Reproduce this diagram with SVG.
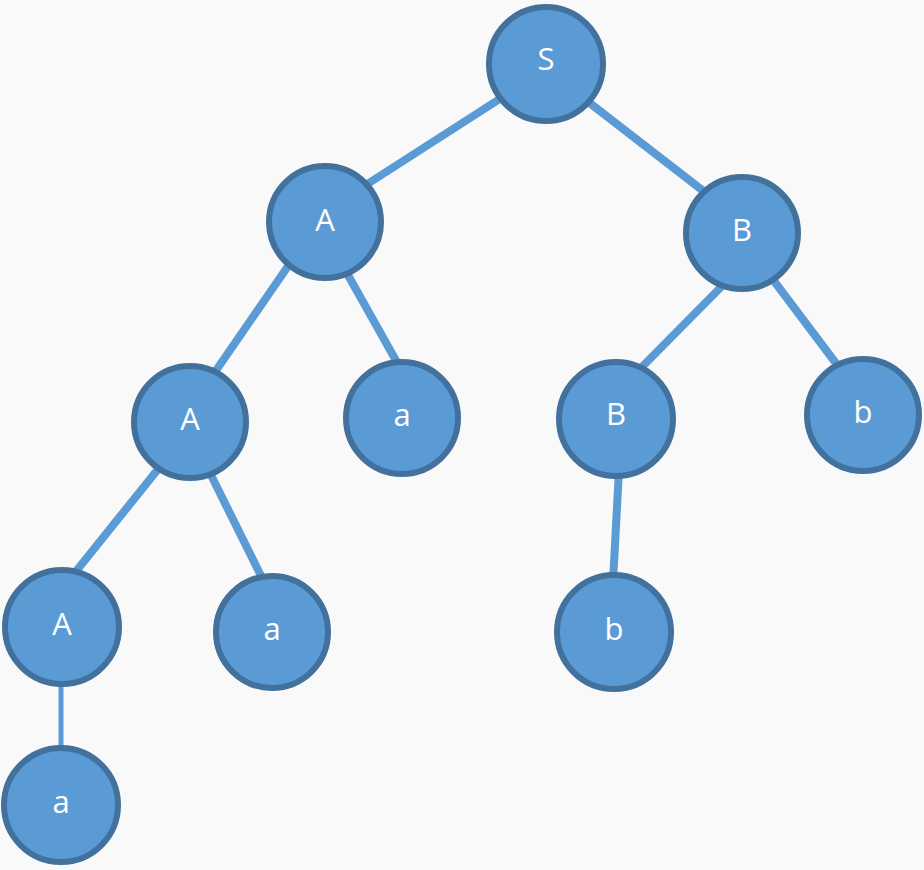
<svg xmlns="http://www.w3.org/2000/svg" width="924" height="870" viewBox="0 0 924 870">
<style>
.e{stroke:#5b9bd5;stroke-width:8;fill:none}
.n circle{fill:#5b9bd5;stroke:#41719c;stroke-width:6}
.n text{fill:#ffffff;font-family:"Open Sans","Liberation Sans",sans-serif;font-size:31px;text-anchor:middle;dominant-baseline:central}
</style>
<rect width="924" height="870" fill="#f9f9f9"/>
<g id="edges">
<line class="e" x1="512" y1="91" x2="358" y2="190"/>
<line class="e" x1="578" y1="94" x2="715" y2="200"/>
<line class="e" x1="295" y1="256" x2="206" y2="385"/>
<line class="e" x1="344" y1="268" x2="403" y2="373"/>
<line class="e" x1="728" y1="280" x2="632" y2="377"/>
<line class="e" x1="768" y1="273" x2="844" y2="374"/>
<line class="e" x1="163" y1="463" x2="69" y2="580"/>
<line class="e" x1="207" y1="467" x2="268" y2="590"/>
<line class="e" x1="619" y1="470" x2="613" y2="582"/>
<line class="e" style="stroke-width:5" x1="61" y1="680" x2="61" y2="755"/>
</g>
<g id="S" class="n"><circle cx="546" cy="64" r="57"/><text x="546" y="58">S</text></g>
<g id="A1" class="n"><circle cx="325" cy="222" r="56"/><text x="325" y="219">A</text></g>
<g id="B1" class="n"><circle cx="742" cy="233" r="56"/><text x="742" y="229">B</text></g>
<g id="A2" class="n"><circle cx="190" cy="422" r="56"/><text x="190" y="418">A</text></g>
<g id="a1" class="n"><circle cx="402" cy="418" r="56"/><text x="402" y="414">a</text></g>
<g id="B2" class="n"><circle cx="616" cy="419" r="57"/><text x="616" y="413">B</text></g>
<g id="b1" class="n"><circle cx="863" cy="415" r="56"/><text x="863" y="411">b</text></g>
<g id="A3" class="n"><circle cx="62" cy="627" r="57"/><text x="62" y="623">A</text></g>
<g id="a2" class="n"><circle cx="272" cy="632" r="56"/><text x="272" y="628">a</text></g>
<g id="b2" class="n"><circle cx="614" cy="632" r="57"/><text x="614" y="628">b</text></g>
<g id="a3" class="n"><circle cx="61" cy="805" r="57"/><text x="61" y="801">a</text></g>
</svg>
